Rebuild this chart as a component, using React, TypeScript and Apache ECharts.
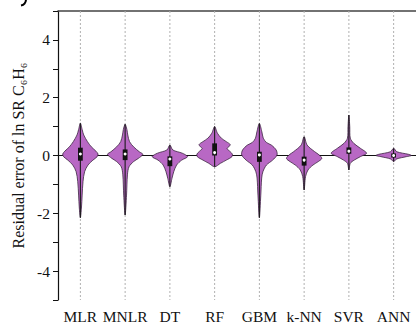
import React, { useEffect, useRef } from "react";
import * as echarts from "echarts";

const categories = ["MLR", "MNLR", "DT", "RF", "GBM", "k-NN", "SVR", "ANN"];

// violin profiles: [residual value, relative density width]
const mlrProfile = [[1.12, 0], [0.9, 0.1], [0.71, 0.19], [0.48, 0.4], [0.3, 0.62], [0.15, 0.88], [0.05, 1.0], [-0.04, 0.95], [-0.16, 0.71], [-0.33, 0.43], [-0.56, 0.24], [-0.9, 0.15], [-1.37, 0.1], [-1.82, 0.06], [-2.15, 0]];
const mnlrProfile = [[1.08, 0], [0.9, 0.1], [0.71, 0.15], [0.48, 0.25], [0.3, 0.48], [0.13, 0.8], [0.04, 1.0], [-0.1, 0.75], [-0.21, 0.48], [-0.39, 0.22], [-0.67, 0.13], [-1.37, 0.08], [-2.06, 0]];
const dtProfile = [[0.36, 0], [0.19, 0.17], [0.08, 0.7], [-0.04, 1.0], [-0.16, 0.67], [-0.33, 0.38], [-0.56, 0.22], [-0.79, 0.12], [-1.08, 0]];
const rfProfile = [[1.0, 0], [0.77, 0.16], [0.6, 0.38], [0.48, 0.66], [0.38, 0.88], [0.3, 0.8], [0.24, 0.7], [0.15, 0.85], [0.05, 1.0], [-0.04, 0.98], [-0.16, 0.66], [-0.27, 0.33], [-0.39, 0]];
const gbmProfile = [[1.11, 0], [0.82, 0.14], [0.6, 0.22], [0.45, 0.4], [0.36, 0.68], [0.19, 0.95], [0.02, 1.0], [-0.16, 0.75], [-0.33, 0.4], [-0.56, 0.2], [-0.78, 0.13], [-1.37, 0.08], [-2.15, 0]];
const knnProfile = [[0.65, 0], [0.36, 0.17], [0.13, 0.6], [0.02, 0.85], [-0.1, 1.0], [-0.21, 0.8], [-0.33, 0.5], [-0.5, 0.22], [-0.73, 0.08], [-1.19, 0]];
const svrProfile = [[1.4, 0], [1.0, 0.05], [0.6, 0.08], [0.42, 0.28], [0.25, 0.65], [0.08, 1.0], [-0.04, 0.65], [-0.16, 0.3], [-0.27, 0.08], [-0.5, 0]];
const annProfile = [[0.25, 0], [0.13, 0.18], [0.04, 0.85], [0.0, 1.0], [-0.04, 0.72], [-0.12, 0.17], [-0.21, 0]];

const q1 = [-0.18, -0.16, -0.37, 0.0, -0.22, -0.35, 0.06, -0.07];
const median = [0.05, 0.05, -0.12, 0.1, 0.02, -0.16, 0.15, 0.0];
const q3 = [0.27, 0.21, -0.03, 0.42, 0.13, -0.04, 0.28, 0.07];

const yTicks = { min: -5, max: 5, step: 1 };

const profiles = [mlrProfile, mnlrProfile, dtProfile, rfProfile, gbmProfile, knnProfile, svrProfile, annProfile];

const FONT = '"Liberation Serif", "Times New Roman", serif';

export default function App() {
  const ref = useRef<HTMLDivElement>(null);
  useEffect(() => {
    if (!ref.current) return;
    const chart = echarts.init(ref.current, undefined, { renderer: "svg" });
    const renderItem = (params: any, api: any) => {
      const i = api.value(0);
      const prof = profiles[i];
      const band = api.size([1, 0])[0];
      const hw = band * 0.395;
      const top = api.coord([i, yTicks.max]);
      const bot = api.coord([i, yTicks.min]);
      const right = prof.map(([v, w]: number[]) => {
        const p = api.coord([i, v]);
        return [p[0] + w * hw, p[1]];
      });
      const left = prof
        .slice(1, prof.length - 1)
        .map(([v, w]: number[]) => {
          const p = api.coord([i, v]);
          return [p[0] - w * hw, p[1]];
        })
        .reverse();
      const wTop = api.coord([i, prof[0][0]]);
      const wBot = api.coord([i, prof[prof.length - 1][0]]);
      const b3 = api.coord([i, q3[i]]);
      const b1 = api.coord([i, q1[i]]);
      const md = api.coord([i, median[i]]);
      const bw = 4.8;
      return {
        type: "group",
        children: [
          {
            type: "line",
            shape: { x1: top[0], y1: top[1], x2: bot[0], y2: bot[1] },
            style: { stroke: "#b0b0b0", lineWidth: 1, lineDash: [2, 2] },
            z2: 0,
          },
          {
            type: "polygon",
            shape: { points: right.concat(left), smooth: 0.3 },
            style: { fill: "#b868c4", stroke: "#3b2340", lineWidth: 0.8 },
            z2: 1,
          },
          {
            type: "line",
            shape: { x1: wTop[0], y1: wTop[1], x2: wBot[0], y2: wBot[1] },
            style: { stroke: "#1a1a1a", lineWidth: 1.1 },
            z2: 2,
          },
          {
            type: "rect",
            shape: { x: b3[0] - bw / 2, y: b3[1], width: bw, height: b1[1] - b3[1] },
            style: { fill: "#111" },
            z2: 3,
          },
          {
            type: "circle",
            shape: { cx: md[0], cy: md[1], r: 1.5 },
            style: { fill: "#fff" },
            z2: 4,
          },
        ],
      };
    };
    chart.setOption({
      animation: false,
      grid: { left: 58, top: 11, width: 359, height: 289, containLabel: false },
      graphic: [
        {
          type: "bezierCurve",
          shape: { x1: 26, y1: -0.5, cpx1: 25.8, cpy1: 4.5, x2: 21, y2: 5.5 },
          style: { stroke: "#000", lineWidth: 2, fill: null },
        },
      ],
      xAxis: [
        {
          type: "category",
          data: categories,
          boundaryGap: true,
          axisLine: { lineStyle: { color: "#111", width: 1.2 } },
          axisTick: { alignWithLabel: true, length: 4, lineStyle: { color: "#111" } },
          axisLabel: { color: "#111", fontFamily: FONT, fontSize: 15.5, margin: 8, interval: 0 },
          splitLine: { show: false },
        },
        {
          type: "category",
          data: categories,
          position: "top",
          axisLine: { lineStyle: { color: "#444", width: 1.6 } },
          axisTick: { show: false },
          axisLabel: { show: false },
          splitLine: { show: false },
        },
      ],
      yAxis: {
        type: "value",
        min: yTicks.min,
        max: yTicks.max,
        interval: yTicks.step,
        name: "Residual error of ln SR C\u2086H\u2086",
        nameLocation: "middle",
        nameGap: 28,
        nameTextStyle: { fontFamily: FONT, fontSize: 16, color: "#111" },
        axisLine: { show: true, lineStyle: { color: "#111", width: 1.2 } },
        axisTick: { show: true, length: 5, lineStyle: { color: "#111" } },
        axisLabel: {
          color: "#111",
          fontFamily: FONT,
          fontSize: 15.5,
          margin: 8,
          formatter: (v: number) => (Math.abs(v) < 5 && v % 2 === 0 ? String(v) : ""),
        },
        splitLine: { show: false },
      },
      series: [
        {
          type: "custom",
          renderItem,
          encode: { x: 0, y: 1 },
          data: categories.map((_, i) => [i, median[i]]),
          z: 2,
        },
      ],
    });
    return () => chart.dispose();
  }, []);
  return (
    <div
      ref={ref}
      style={{ position: "fixed", left: 0, top: 0, width: 416, height: 326, background: "#fff" }}
    />
  );
}
